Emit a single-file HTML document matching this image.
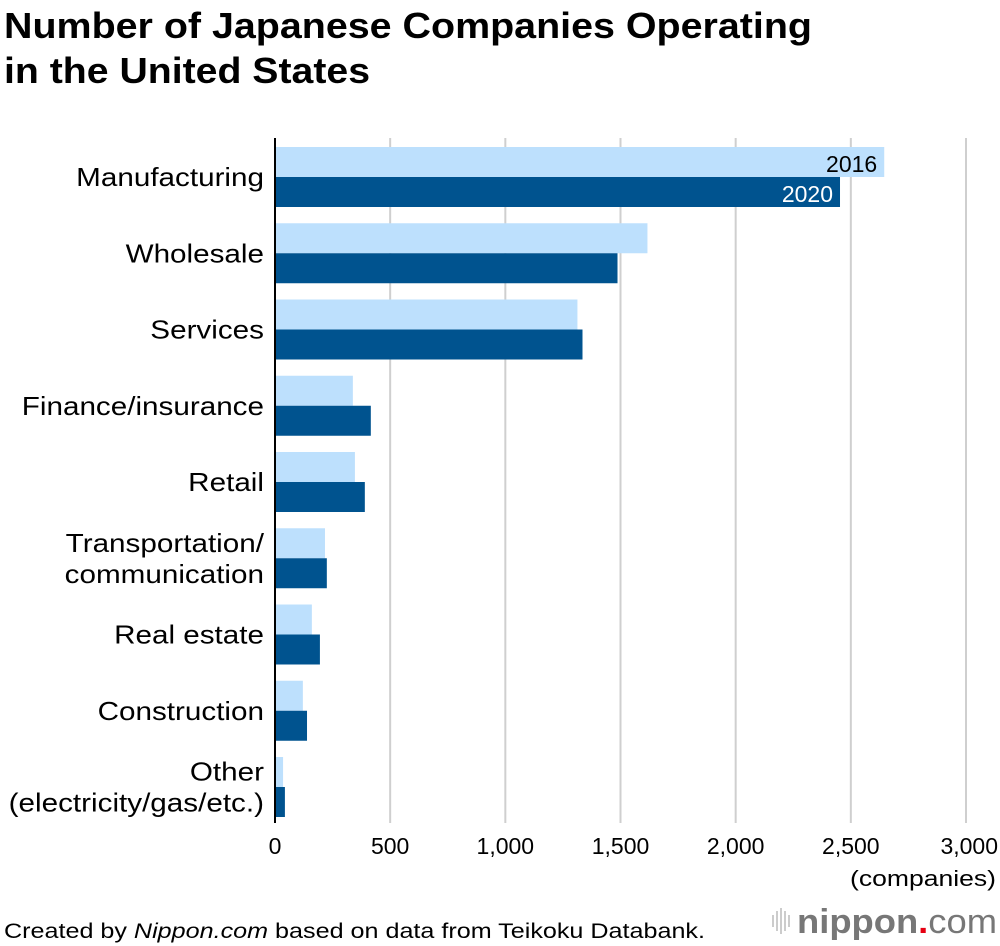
<!DOCTYPE html>
<html><head><meta charset="utf-8"><style>
body{margin:0;background:#fff;font-family:"Liberation Sans",sans-serif;}
svg{display:block}
</style></head><body>
<svg width="1000" height="946" xmlns="http://www.w3.org/2000/svg">
<text x="4" y="38" font-size="36" font-weight="bold" fill="#000" textLength="808" lengthAdjust="spacingAndGlyphs">Number of Japanese Companies Operating</text>
<text x="4" y="83" font-size="36" font-weight="bold" fill="#000" textLength="366" lengthAdjust="spacingAndGlyphs">in the United States</text>
<g id="grid"></g>
<g id="bars"></g>
<g id="labels"></g>
<line x1="275" y1="138" x2="275" y2="823" stroke="#000" stroke-width="2"/>
<text x="996" y="886" font-size="22" text-anchor="end" textLength="146" lengthAdjust="spacingAndGlyphs">(companies)</text>
<text x="4" y="938" font-size="21" textLength="701" lengthAdjust="spacingAndGlyphs">Created by <tspan font-style="italic">Nippon.com</tspan> based on data from Teikoku Databank.</text>
<g>
<g stroke="#bbb" stroke-width="1.5"><line x1="773" y1="915" x2="773" y2="927"/><line x1="777" y1="911" x2="777" y2="931"/><line x1="781" y1="908" x2="781" y2="934"/><line x1="785" y1="911" x2="785" y2="931"/><line x1="789" y1="915" x2="789" y2="927"/></g>
<text x="797" y="933" font-size="34" fill="#777" font-weight="bold" textLength="200" lengthAdjust="spacingAndGlyphs">nippon<tspan fill="#e60012">.</tspan><tspan font-weight="normal">com</tspan></text>
</g>
</svg>
<script>
const categories=[["Manufacturing"],["Wholesale"],["Services"],["Finance/insurance"],["Retail"],["Transportation/","communication"],["Real estate"],["Construction"],["Other","(electricity/gas/etc.)"]];
const values2016=[2645,1617,1313,338,347,217,160,121,35];
const values2020=[2453,1487,1335,416,390,225,195,139,43];
const ticks=[0,500,1000,1500,2000,2500,3000];
const tickLabels=["0","500","1,000","1,500","2,000","2,500","3,000"];
const NS="http://www.w3.org/2000/svg";
const x=v=>275+v*(966-275)/3000;
const rowY=i=>147+i*76.25;
const BH=30;
function mk(tag,attrs,parent){const e=document.createElementNS(NS,tag);for(const k in attrs)e.setAttribute(k,attrs[k]);parent.appendChild(e);return e;}
const grid=document.getElementById('grid'),bars=document.getElementById('bars'),labels=document.getElementById('labels');
ticks.forEach((t,i)=>{
 if(t>0){const l=mk('line',{x1:x(t),x2:x(t),y1:138,y2:823,stroke:'#cfcfcf','stroke-width':2},grid);
 
 }
 const tx=mk('text',{x:x(t),y:854,'font-size':23,'text-anchor':i==ticks.length-1?'end':'middle'},labels);
 if(i==ticks.length-1)tx.setAttribute('x',998);
 tx.textContent=tickLabels[i];
 
 
});
categories.forEach((c,i)=>{
 const y=rowY(i);
 const b1=mk('rect',{x:275,y:y,width:x(values2016[i])-275,height:BH,fill:'#bde0fd'},bars);
 
 
 const b2=mk('rect',{x:275,y:y+BH,width:x(values2020[i])-275,height:BH,fill:'#00538f'},bars);
 
 
 const mid=y+BH;
 c.forEach((line,j)=>{
  const t=mk('text',{x:264,y:mid+9+(j-(c.length-1)/2)*31,'font-size':26,'text-anchor':'end'},labels);
  t.textContent=line;
  
  
  const w=t.getComputedTextLength();
  t.setAttribute('textLength',(w*1.14).toFixed(1));
  t.setAttribute('lengthAdjust','spacingAndGlyphs');
 });
 if(i==0){
  const a=mk('text',{x:x(values2016[0])-7,y:y+25,'font-size':23,'text-anchor':'end',fill:'#000'},labels);
  a.textContent='2016';
  
  
  const b=mk('text',{x:x(values2020[0])-7,y:y+BH+25,'font-size':23,'text-anchor':'end',fill:'#fff'},labels);
  b.textContent='2020';
  
  
 }
});
</script>
</body></html>
